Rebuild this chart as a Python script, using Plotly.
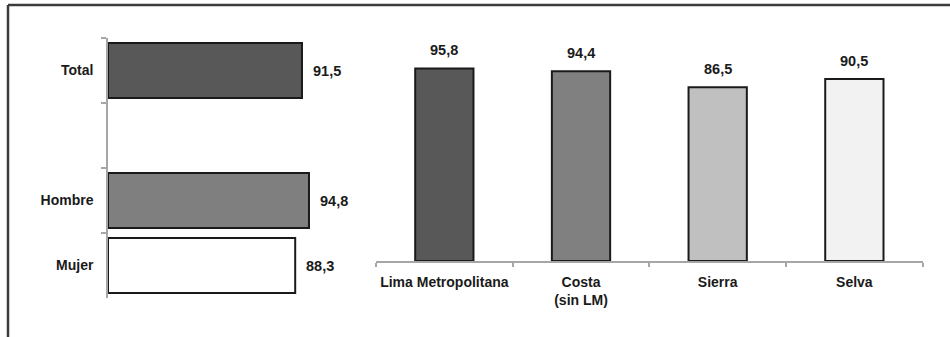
import plotly.graph_objects as go

# ---- data ----
sex_categories = ["Total", " ", "Hombre", "Mujer"]
sex_values = [91.5, None, 94.8, 88.3]
sex_labels = ["91,5", "", "94,8", "88,3"]
sex_colors = ["#585858", "#ffffff", "#7f7f7f", "#ffffff"]

region_categories = ["Lima Metropolitana", "Costa<br>(sin LM)", "Sierra", "Selva"]
region_values = [95.8, 94.4, 86.5, 90.5]
region_labels = ["95,8", "94,4", "86,5", "90,5"]
region_colors = ["#585858", "#808080", "#c0c0c0", "#f2f2f2"]

FONT = "Liberation Sans, Arial, sans-serif"
FSIZE = 14
W, H = 950, 337

fig = go.Figure()

fig.add_trace(go.Bar(
    y=sex_categories, x=sex_values, orientation="h",
    marker=dict(color=sex_colors, line=dict(color="#1a1a1a", width=2)),
    xaxis="x", yaxis="y", showlegend=False, hoverinfo="skip",
))
fig.add_trace(go.Bar(
    x=region_categories, y=region_values, width=0.4265,
    marker=dict(color=region_colors, line=dict(color="#1a1a1a", width=2)),
    xaxis="x2", yaxis="y2", showlegend=False, hoverinfo="skip",
))

annotations = []
for c, v, t in zip(sex_categories, sex_values, sex_labels):
    if v is None:
        continue
    annotations.append(dict(x=v, y=c, xref="x", yref="y", text=t, showarrow=False,
                            xanchor="left", yanchor="middle", xshift=9,
                            font=dict(family=FONT, size=FSIZE + 0.5, color="#1a1a1a", weight=700)))
for c, v, t in zip(region_categories, region_values, region_labels):
    annotations.append(dict(x=c, y=v, xref="x2", yref="y2", text=t, showarrow=False,
                            xanchor="center", yanchor="middle", yshift=18,
                            font=dict(family=FONT, size=FSIZE + 0.5, color="#1a1a1a", weight=700)))

def px_x(p):
    return p / W

def px_y(p):
    return (H - p) / H

fig.update_layout(
    width=W, height=H, autosize=False,
    margin=dict(l=0, r=0, t=0, b=0, autoexpand=False),
    paper_bgcolor="white", plot_bgcolor="white",
    bargap=0.154,
    annotations=annotations,
    xaxis=dict(domain=[px_x(108), px_x(320)], range=[0, 100], visible=False,
               anchor="y", automargin=False),
    yaxis=dict(domain=[px_y(298), px_y(38)], type="category", autorange="reversed",
               anchor="x", automargin=False, showline=True, linecolor="#a6a6a6", linewidth=1.5,
               ticks="outside", tickson="boundaries", ticklen=5, tickcolor="#a6a6a6",
               tickwidth=1.5, ticklabelstandoff=10, showgrid=False, zeroline=False,
               tickfont=dict(family=FONT, size=FSIZE, color="#1a1a1a", weight=700)),
    xaxis2=dict(domain=[px_x(376), px_x(922.7)], type="category", anchor="y2",
                automargin=False, tickangle=0,
                showline=True, linecolor="#a6a6a6", linewidth=1.5,
                ticks="outside", tickson="boundaries", ticklen=4, tickcolor="#a6a6a6",
                tickwidth=1.5, ticklabelstandoff=7, showgrid=False, zeroline=False,
                tickfont=dict(family=FONT, size=FSIZE, color="#1a1a1a", weight=700)),
    yaxis2=dict(domain=[px_y(261), px_y(60)], range=[0, 100], visible=False,
                anchor="x2", automargin=False),
    shapes=[
        dict(type="line", xref="paper", yref="paper", x0=px_x(8), x1=1.0,
             y0=px_y(5), y1=px_y(5), line=dict(color="#3c3c3c", width=2.5)),
        dict(type="line", xref="paper", yref="paper", x0=px_x(8), x1=px_x(8),
             y0=px_y(5), y1=0, line=dict(color="#3c3c3c", width=2.5)),
    ],
)

fig.write_html("out.html")
